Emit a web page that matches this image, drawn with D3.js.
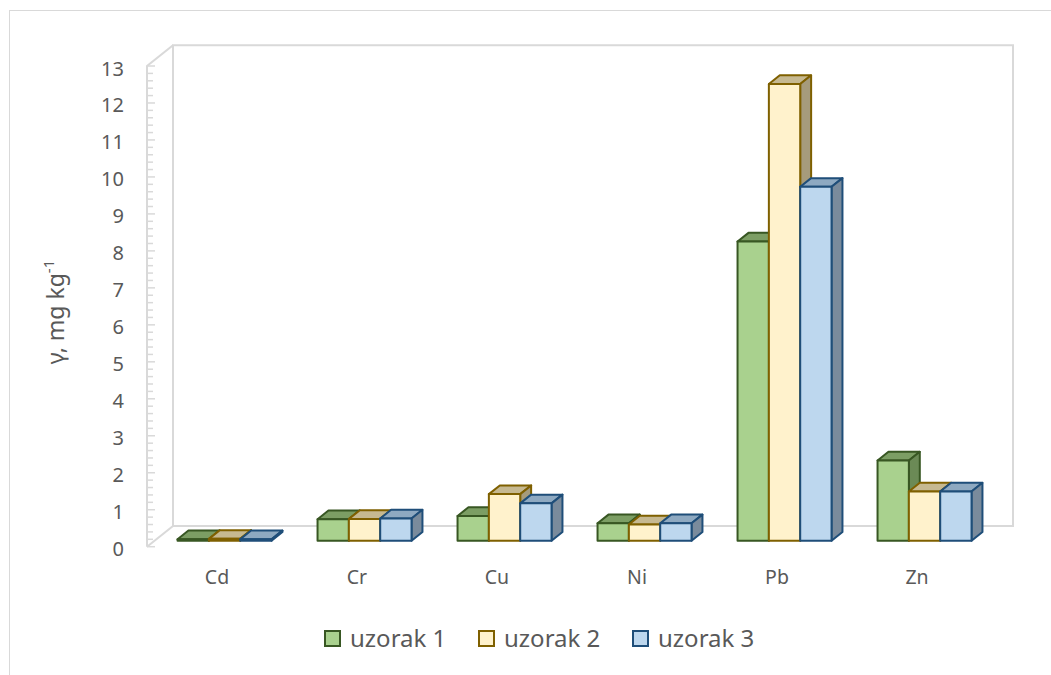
<!DOCTYPE html>
<html>
<head>
<meta charset="utf-8">
<script src="https://cdn.jsdelivr.net/npm/d3@7"></script>
<style>
  body { margin: 0; background: #ffffff; }
  svg { display: block; font-family: "Noto Sans", sans-serif; }
  .tick-label, .cat-label, .legend-label, .y-title { fill: #595959; }
</style>
</head>
<body>
<script>
// 3D clustered column chart, heavy metals per sample

var categories = ["Cd", "Cr", "Cu", "Ni", "Pb", "Zn"];
var seriesNames = ["uzorak 1", "uzorak 2", "uzorak 3"];
var uzorak1 = [0.04, 0.58, 0.67, 0.47, 8.09, 2.17];
var uzorak2 = [0.05, 0.59, 1.26, 0.44, 12.35, 1.33];
var uzorak3 = [0.04, 0.60, 1.01, 0.47, 9.57, 1.33];
var yTicks = [0, 1, 2, 3, 4, 5, 6, 7, 8, 9, 10, 11, 12, 13];

window.onload = function(){

    var w = 1051,
        h = 675;

    var svg = d3.select("body")
        .append("svg")
        .attr("width", w)
        .attr("height", h);

    // outer chart frame
    svg.append("rect")
        .attr("x", 9.5)
        .attr("y", 10.5)
        .attr("width", 1200)
        .attr("height", 800)
        .style("fill", "none")
        .style("stroke", "#d9d9d9")
        .style("stroke-width", 1);

    // front plane geometry + depth vector
    var left = 147, right = 987;
    var depthX = 26, depthY = -20.7;

    var y = d3.scaleLinear()
        .domain([0, 13])
        .range([546.7, 66]);

    var x0 = d3.scaleBand()
        .domain(categories)
        .range([left, right])
        .paddingInner(0.3286)
        .paddingOuter(0.1643);

    var x1 = d3.scaleBand()
        .domain(seriesNames)
        .range([0, x0.bandwidth()]);

    var styles = [
        {fill: "#a9d18e", stroke: "#385723", top: "#7c9e64", side: "#6b8a56"},
        {fill: "#fff2cc", stroke: "#7f6000", top: "#c6b991", side: "#a69b7c"},
        {fill: "#bdd7ee", stroke: "#1f4e79", top: "#8ea9c1", side: "#7a8b9c"}
    ];

    // =======================
    // walls
    // =======================
    var walls = svg.append("g")
        .style("fill", "none")
        .style("stroke", "#d9d9d9")
        .style("stroke-width", 2);

    var bx = left + depthX, y0 = y(0), y13 = y(13);

    walls.append("path")
        .attr("d", "M" + bx + "," + (y0 + depthY) + "L" + (right + depthX) + "," + (y0 + depthY) +
            "L" + (right + depthX) + "," + (y13 + depthY) + "L" + bx + "," + (y13 + depthY) + "Z");

    walls.append("path")
        .attr("d", "M" + left + "," + y0 + "L" + left + "," + y13 +
            "L" + bx + "," + (y13 + depthY) + "M" + left + "," + y0 + "L" + bx + "," + (y0 + depthY));

    // minor / major ticks on front edge of left wall
    var minor = d3.range(0, 13.001, 0.2);
    walls.selectAll(".tk")
        .data(minor)
        .enter()
        .append("line")
        .attr("x1", left)
        .attr("x2", function(d){
            return Math.abs(d - Math.round(d)) < 0.01 ? left + 8 : left + 6;
        })
        .attr("y1", function(d){ return y(d); })
        .attr("y2", function(d){ return y(d); })
        .style("stroke-width", 1.5);

    // tick labels
    svg.selectAll(".tick-label")
        .data(yTicks)
        .enter()
        .append("text")
        .attr("class", "tick-label")
        .attr("x", 124)
        .attr("y", function(d){ return y(d) + 2; })
        .attr("text-anchor", "end")
        .attr("dominant-baseline", "central")
        .style("font-size", "20px")
        .text(function(d){ return d; });

    // y title
    var yt = svg.append("text")
        .attr("class", "y-title")
        .attr("transform", "translate(64,312) rotate(-90)")
        .attr("text-anchor", "middle")
        .style("font-size", "23px");
    yt.append("tspan").text("γ, mg kg");
    yt.append("tspan")
        .attr("baseline-shift", "super")
        .style("font-size", "15px")
        .text("-1");

    // category labels
    svg.selectAll(".cat-label")
        .data(categories)
        .enter()
        .append("text")
        .attr("class", "cat-label")
        .attr("x", function(d){ return x0(d) + x0.bandwidth() / 2; })
        .attr("y", 583.5)
        .attr("text-anchor", "middle")
        .style("font-size", "19.5px")
        .text(function(d){ return d; });

    // =======================
    // 3D bars
    // =======================
    var f0 = 0.29, fd = 0.42;
    var ox = f0 * depthX, oy = f0 * depthY;
    var dx = fd * depthX, dy = fd * depthY;
    var allSeries = [uzorak1, uzorak2, uzorak3];

    var bars = [];
    categories.forEach(function(c, ci){
        seriesNames.forEach(function(s, si){
            bars.push({cat: c, s: s, si: si, v: allSeries[si][ci]});
        });
    });

    var bw = x1.bandwidth();

    var g = svg.selectAll(".bar")
        .data(bars)
        .enter()
        .append("g")
        .attr("class", "bar")
        .style("stroke-width", 2)
        .style("stroke-linejoin", "round")
        .style("stroke", function(d){ return styles[d.si].stroke; });

    function pts(arr){
        return arr.map(function(p){ return p[0] + "," + p[1]; }).join(" ");
    }

    g.each(function(d){
        var el = d3.select(this);
        var xl = x0(d.cat) + x1(d.s) + ox,
            xr = xl + bw,
            yb = y(0) + oy,
            yt = y(d.v) + oy;
        var st = styles[d.si];

        el.append("polygon")
            .attr("points", pts([[xl, yt], [xr, yt], [xr + dx, yt + dy], [xl + dx, yt + dy]]))
            .style("fill", st.top);
        el.append("polygon")
            .attr("points", pts([[xr, yb], [xr, yt], [xr + dx, yt + dy], [xr + dx, yb + dy]]))
            .style("fill", st.side);
        el.append("rect")
            .attr("x", xl)
            .attr("y", yt)
            .attr("width", bw)
            .attr("height", yb - yt)
            .style("fill", st.fill);
    });

    // =======================
    // legend
    // =======================
    var legend = svg.selectAll(".legend")
        .data(seriesNames)
        .enter()
        .append("g")
        .attr("class", "legend")
        .attr("transform", function(d, i){
            return "translate(" + (325 + i * 154) + ",631)";
        });

    legend.append("rect")
        .attr("width", 15)
        .attr("height", 15)
        .style("fill", function(d, i){ return styles[i].fill; })
        .style("stroke", function(d, i){ return styles[i].stroke; })
        .style("stroke-width", 2);

    legend.append("text")
        .attr("class", "legend-label")
        .attr("x", 25)
        .attr("y", 16)
        .style("font-size", "24px")
        .text(function(d){ return d; });
};
</script>
</body>
</html>
